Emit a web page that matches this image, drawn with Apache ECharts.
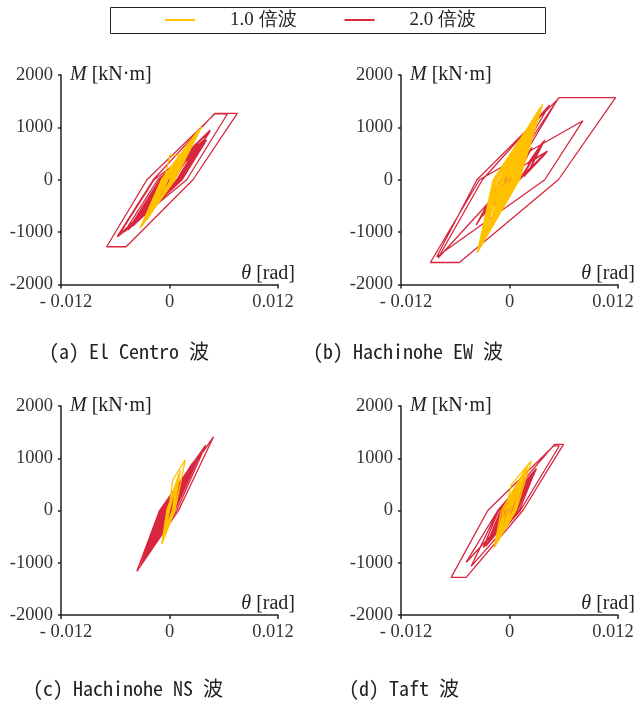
<!DOCTYPE html>
<html>
<head>
<meta charset="utf-8">
<script src="https://cdn.jsdelivr.net/npm/echarts@6/dist/echarts.min.js"></script>
<style>html,body{margin:0;padding:0;background:#fff;}#c{width:637px;height:701px;}</style>
</head>
<body>
<div id="c"></div>
<script>
// ---- data (theta in rad, M in kN·m) ----
const seriesNames = ['1.0 倍波', '2.0 倍波'];
const panelTitles = ['(a) El Centro 波', '(b) Hachinohe EW 波', '(c) Hachinohe NS 波', '(d) Taft 波'];
const thetaTicks = [-0.012, 0, 0.012];
const momentTicks = [-2000, -1000, 0, 1000, 2000];

const aRed = [[0,0],[0.0012,300],[0.0001,0],[-0.0014,-380],[0,0],
 [0.0024,560],[0.0003,0],[-0.0028,-690],[-0.0003,0],
 [0.0036,650],[0.0012,0],[-0.0038,-830],[-0.0007,0],
 [0.0039,700],[0.0013,0],[-0.0034,-780],[-0.0005,0],
 [0.0030,560],[0.0009,0],[-0.0040,-880],[-0.0009,0],
 [0.0034,640],[0.0011,0],[-0.0044,-920],[-0.0010,0],
 [0.0045,930],[0.0010,0],[-0.0058,-1090],[-0.0018,0],
 [0.0050,1267],[0.0075,1267],[0.0026,0],[-0.0048,-1279],[-0.00695,-1279],[-0.0025,0],
 [0.00505,1262],[0.0064,1255],[0.0019,0],[-0.0057,-1085],[-0.0017,0],
 [0.0041,760],[0.0014,0],[-0.0035,-790],[-0.0007,0],
 [0.0028,520],[0.0008,0],[-0.0046,-960],[-0.0011,0],
 [0.0045,950],[0.0010,0],[-0.0042,-900],[-0.0008,0],
 [0.0037,700],[0.0012,0],[-0.0039,-850],[-0.0008,0],
 [0.0033,620],[0.0010,0],[-0.0032,-740],[-0.0006,0],
 [0.0040,740],[0.0013,0],[-0.0050,-1000],[-0.0013,0],
 [0.0038,760],[0.0010,0],[-0.0036,-800],[-0.0006,0],
 [0.0029,540],[0.0009,0],[-0.0041,-870],[-0.0009,0],
 [0.0035,660],[0.0011,0],[-0.0036,-810],[-0.0007,0],
 [0.0032,680],[0.0008,0],[-0.0030,-700],[-0.0004,0],
 [0.0031,600],[0.0009,0],[-0.0027,-650],[-0.0005,0],
 [0.0026,580],[0.0005,0],[-0.0022,-560],[-0.0002,0],
 [0.0015,380],[0.0002,0],[-0.0012,-300],[0,0]];
const aYellow = [[0,0],[0.0008,300],[0.0001,0],[-0.0009,-330],[-0.0002,0],
 [0.0014,470],[0.0002,0],[-0.0016,-520],[-0.0004,0],
 [0.0022,700],[0.0003,0],[-0.0024,-720],[-0.0006,0],
 [0.00005,470],[0.00135,475],[0.00356,1012],[0.0006,0],[-0.00326,-928],[-0.0009,0],
 [0.0028,820],[0.0004,0],[-0.0028,-820],[-0.0008,0],
 [0.0030,900],[0.0005,0],[-0.0025,-760],[-0.0007,0],
 [0.0026,780],[0.0004,0],[-0.0030,-870],[-0.0009,0],
 [0.0032,950],[0.0006,0],[-0.0021,-650],[-0.0005,0],
 [0.0024,720],[0.0003,0],[-0.0020,-620],[-0.0005,0],
 [0.0018,560],[0.0002,0],[-0.0014,-450],[-0.0003,0],
 [0.0010,330],[0,0]];

const bRed = [[0,0],[0.0012,380],[0.0002,0],[-0.0013,-420],[-0.0003,0],
 [0.0025,620],[0.0006,0],[-0.0031,-706],[-0.0006,0],
 [0.00546,1567],[0.01173,1567],[0.0054,0],[-0.00554,-1580],[-0.00875,-1580],[-0.00332,0],
 [0.00812,1127],[0.0039,0],[-0.00805,-1470],[-0.0036,0],
 [0.0053,1530],[0.0000,0],[-0.0079,-1495],[-0.0030,0],
 [0.00443,1427],[-0.0005,0],[-0.00369,-866],[-0.0010,0],
 [0.0041,540],[0.0020,150],[0.0040,520],[0.0016,60],[0.0041,535],[0.0022,180],
 [0.0039,760],[0.0013,40],[0.0040,500],[0.0018,100],[0.0038,470],[0.0015,90],
 [0.0042,550],[0.0025,240],[0.0040,515],[0.0014,50],[0.0036,700],[0.0020,300],
 [0.0042,545],[0.0021,160],[0.0037,720],[0.0012,30],[0.0039,500],[0.0011,0],
 [-0.0031,-706],[-0.0012,-250],[-0.0029,-680],[-0.0010,-200],[-0.0027,-640],[-0.0014,-300],
 [-0.0030,-690],[-0.0003,0],
 [0.0015,300],[0,0]];
const bYellow = [[0,0],[0.0009,400],[0,0],[-0.0009,-420],[-0.0002,0],
 [0.0016,700],[0.0002,0],[-0.0017,-760],[-0.0004,0],
 [0.0024,1000],[0.0004,0],[-0.0025,-1050],[-0.0007,0],
 [0.00367,1445],[0.0011,0],[-0.00356,-1393],[-0.0018,0],
 [0.0030,1250],[0.0008,0],[-0.0030,-1200],[-0.0012,0],
 [0.0033,1350],[0.0010,0],[-0.0032,-1280],[-0.0015,0],
 [0.0026,1100],[0.0008,0],[-0.0029,-1150],[-0.0014,0],
 [0.0032,1320],[0.0010,0],[-0.0026,-1050],[-0.0012,0],
 [0.0020,880],[0.0005,0],[-0.0034,-1330],[-0.0016,0],
 [0.0034,1380],[0.0009,0],[-0.0022,-900],[-0.0009,0],
 [0.0028,1180],[0.0007,0],[-0.0032,-1270],[-0.0017,0],
 [0.0027,1100],[0.0006,0],[-0.0028,-1120],[-0.0010,0],
 [0.0029,1200],[0.0007,0],[-0.0024,-1000],[-0.0008,0],
 [0.0018,800],[0.0003,0],[-0.0019,-800],[-0.0008,0],
 [0.0022,950],[0.0006,0],[-0.0015,-640],[-0.0006,0],
 [0.0022,900],[0.0004,0],[-0.0020,-850],[-0.0006,0],
 [0.0013,650],[0.0002,0],[-0.0012,-520],[-0.0004,0],
 [0.0016,680],[0.0002,0],[-0.0012,-520],[-0.0002,0],
 [0.0008,330],[0,0]];

const cRed = [[0,0],[0.0006,250],[-0.0001,0],[-0.0008,-300],[-0.0002,0],
 [0.0010,420],[0.0001,0],[-0.0013,-480],[-0.0004,0],
 [0.0015,600],[0.0002,0],[-0.0016,-580],[-0.0005,0],
 [0.0020,750],[0.0003,0],[-0.0019,-680],[-0.0006,0],
 [0.0025,900],[0.0004,0],[-0.0022,-760],[-0.0007,0],
 [0.00487,1412],[0.0010,0],[-0.00361,-1164],[-0.0011,0],
 [0.0040,1250],[0.0008,0],[-0.0032,-1050],[-0.0010,0],
 [0.0035,1120],[0.0006,0],[-0.0028,-940],[-0.0009,0],
 [0.0030,1000],[0.0005,0],[-0.0025,-850],[-0.0008,0],
 [0.0027,940],[0.0004,0],[-0.0030,-990],[-0.0009,0],
 [0.0023,840],[0.0003,0],[-0.0021,-740],[-0.0006,0],
 [0.0033,1060],[0.0006,0],[-0.0026,-880],[-0.0008,0],
 [0.0018,680],[0.0002,0],[-0.0017,-620],[-0.0005,0],
 [0.0021,780],[0.0003,0],[-0.0023,-800],[-0.0007,0],
 [0.0012,480],[0.0001,0],[-0.0011,-400],[-0.0003,0],
 [0.0006,240],[0,0]];
const cYellow = [[0,0],[0.0003,300],[0,0],[-0.0004,-300],[-0.0001,0],
 [0.00037,586],[0.00174,968],[0.0006,0],[-0.00085,-640],[-0.0003,0],
 [0.0009,620],[0.0004,0],[-0.0007,-520],[-0.0002,0],
 [0.0012,760],[0.0005,0],[-0.0006,-450],[-0.0001,0],
 [0.0010,680],[0.0004,0],[-0.0008,-580],[-0.0002,0],
 [0.0008,560],[0.0003,0],[-0.0005,-380],[-0.0001,0],
 [0.0005,350],[0,0]];

const dRed = [[0,0],[0.0010,300],[0,0],[-0.0012,-330],[-0.0002,0],
 [0.0018,520],[0.0003,0],[-0.0020,-560],[-0.0004,0],
 [0.0026,700],[0.0006,0],[-0.0026,-680],[-0.0006,0],
 [0.00295,800],[0.0005,0],[-0.0048,-994],[-0.0013,0],
 [0.00498,1267],[0.00597,1267],[0.00148,0],[-0.00479,-1279],[-0.00645,-1279],[-0.0024,0],
 [0.0049,1240],[0.0055,1235],[0.0012,0],[-0.00424,-1069],[-0.0013,0],
 [0.0030,800],[0.0006,0],[-0.0026,-655],[-0.0006,0],
 [0.0027,740],[0.0009,0],[-0.0029,-710],[-0.0012,0],
 [0.0024,660],[0.0007,0],[-0.0025,-640],[-0.0010,0],
 [0.0029,790],[0.0011,0],[-0.0022,-580],[-0.0008,0],
 [0.0021,600],[0.0006,0],[-0.0028,-690],[-0.0013,0],
 [0.0025,700],[0.0008,0],[-0.0024,-620],[-0.0009,0],
 [0.0028,720],[0.0005,0],[-0.0023,-600],[-0.0005,0],
 [0.0019,540],[0.0005,0],[-0.0020,-540],[-0.0007,0],
 [0.0022,600],[0.0004,0],[-0.0018,-480],[-0.0003,0],
 [0.0014,400],[0.0002,0],[-0.0010,-280],[0,0]];
const dYellow = [[0,0],[0.0005,280],[0,0],[-0.0006,-300],[-0.0002,0],
 [0.0010,520],[0.0002,0],[-0.0011,-480],[-0.0004,0],
 [0.00019,490],[0.0024,950],[0.00074,0],[-0.0017,-710],[-0.0009,0],
 [0.0018,800],[0.0005,0],[-0.0013,-600],[-0.0006,0],
 [0.0016,720],[0.0004,0],[-0.0015,-650],[-0.0007,0],
 [0.0020,840],[0.0006,0],[-0.0010,-480],[-0.0004,0],
 [0.0012,560],[0.0002,0],[-0.0007,-350],[-0.0002,0],
 [0.0006,300],[0,0]];

const redSets = [aRed, bRed, cRed, dRed];
const yellowSets = [aYellow, bYellow, cYellow, dYellow];

// ---- layout / style ----
const RED = '#D7263D', YEL = '#FFC000';
const SERIF = '"Liberation Serif","Times New Roman",serif';
const GOTHIC = '"Noto Sans Mono CJK JP","Noto Sans CJK JP",monospace';
const gridPos = [
  {left: 61, top: 75, width: 217, height: 209.5},
  {left: 401, top: 75, width: 217, height: 209.5},
  {left: 61, top: 406, width: 217, height: 209},
  {left: 401, top: 406, width: 217, height: 209}
];
const captionPos = [[129, 351], [408, 351], [128, 688], [404, 688]];

const axisLineStyle = {color: '#222', width: 1.5};
const TICK_FS = 18.5, NAME_FS = 20;
const grids = [], xAxes = [], yAxes = [], series = [];
gridPos.forEach((g, i) => {
  grids.push(Object.assign({containLabel: false}, g));
  xAxes.push({
    gridIndex: i, type: 'value',
    min: thetaTicks[0], max: thetaTicks[thetaTicks.length - 1], interval: thetaTicks[2] - thetaTicks[1],
    axisLine: {onZero: false, lineStyle: axisLineStyle},
    axisTick: {length: 4, lineStyle: axisLineStyle},
    splitLine: {show: false},
    axisLabel: {
      fontFamily: SERIF, fontSize: TICK_FS, color: '#333', margin: 8,
      formatter: v => v < 0 ? '{l|- ' + Math.abs(v).toFixed(3) + '}' : (v > 0 ? '{r|' + v.toFixed(3) + '}' : '0'),
      rich: {
        l: {fontFamily: SERIF, fontSize: TICK_FS, color: '#333', padding: [0, 0, 0, 10]},
        r: {fontFamily: SERIF, fontSize: TICK_FS, color: '#333', padding: [0, 10, 0, 0]}
      }
    },
    name: '{i|θ} [rad]', nameLocation: 'end', nameGap: 17,
    nameTextStyle: {
      fontFamily: SERIF, fontSize: NAME_FS, color: '#222', align: 'right', verticalAlign: 'bottom',
      padding: [0, 0, 1, 0],
      rich: {i: {fontFamily: SERIF, fontSize: NAME_FS, fontStyle: 'italic', color: '#222'}}
    }
  });
  yAxes.push({
    gridIndex: i, type: 'value',
    min: momentTicks[0], max: momentTicks[momentTicks.length - 1], interval: momentTicks[1] - momentTicks[0],
    axisLine: {show: true, onZero: false, lineStyle: axisLineStyle},
    axisTick: {show: true, length: 3, lineStyle: axisLineStyle},
    splitLine: {show: false},
    axisLabel: {fontFamily: SERIF, fontSize: TICK_FS, color: '#333', margin: 8, formatter: v => String(v)},
    name: '{i|M} [kN·m]', nameLocation: 'end', nameGap: 0,
    nameTextStyle: {
      fontFamily: SERIF, fontSize: NAME_FS, color: '#222', align: 'left', verticalAlign: 'middle',
      padding: [0, 0, 0, 9],
      rich: {i: {fontFamily: SERIF, fontSize: NAME_FS, fontStyle: 'italic', color: '#222'}}
    }
  });
  series.push({
    name: seriesNames[1], type: 'line', xAxisIndex: i, yAxisIndex: i,
    data: redSets[i], showSymbol: false, symbol: 'none', z: 2,
    lineStyle: {color: RED, width: 1.3}, itemStyle: {color: RED}
  });
  series.push({
    name: seriesNames[0], type: 'line', xAxisIndex: i, yAxisIndex: i,
    data: yellowSets[i], showSymbol: false, symbol: 'none', z: 3,
    lineStyle: {color: YEL, width: 1.3}, itemStyle: {color: YEL}
  });
});

const graphics = [{
  type: 'rect', shape: {x: 110.5, y: 7.5, width: 435, height: 26},
  style: {fill: 'none', stroke: '#222', lineWidth: 1}, silent: true
}];
panelTitles.forEach((t, i) => {
  graphics.push({
    type: 'text', x: captionPos[i][0], y: captionPos[i][1],
    style: {text: t, font: '500 20px ' + GOTHIC, fill: '#222', textAlign: 'center', textVerticalAlign: 'middle'}
  });
});

const chart = echarts.init(document.getElementById('c'), null, {renderer: 'canvas'});
chart.setOption({
  animation: false,
  backgroundColor: '#fff',
  legend: {
    data: seriesNames, left: 165, top: 10, icon: 'rect', itemWidth: 30, itemHeight: 2, itemGap: 48,
    padding: 0,
    textStyle: {fontFamily: SERIF, fontSize: 19, color: '#222', padding: [0, 0, 0, 30], lineHeight: 20}
  },
  grid: grids, xAxis: xAxes, yAxis: yAxes, series: series,
  graphic: graphics
});
</script>
</body>
</html>
